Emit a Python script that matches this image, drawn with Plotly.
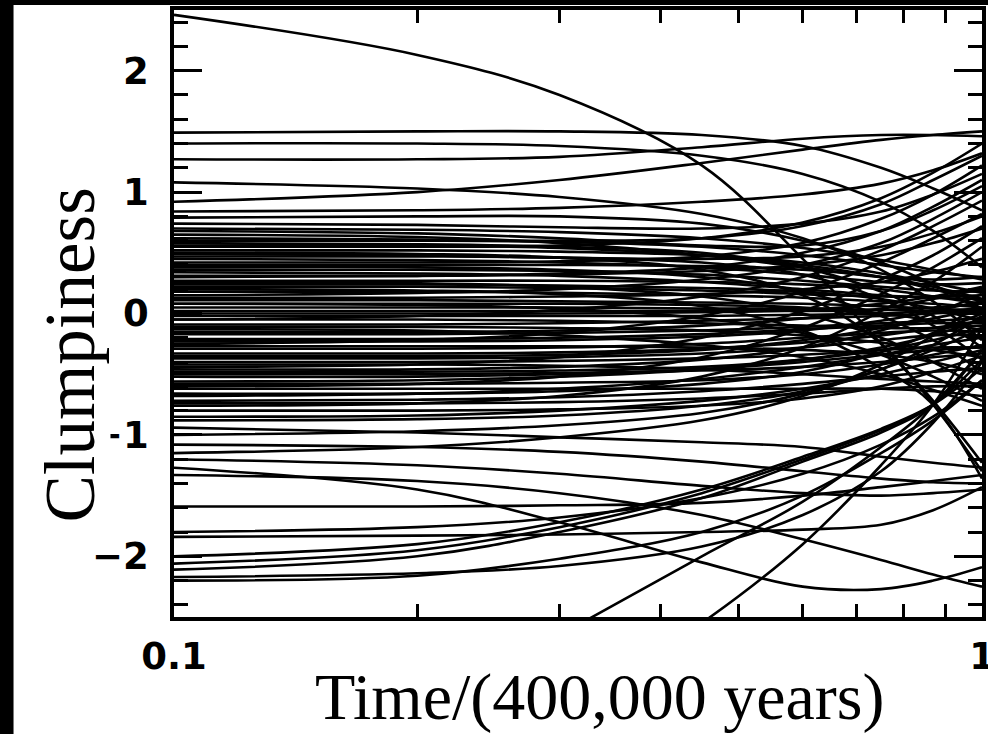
import plotly.graph_objects as go

time_grid = [0.1, 0.2, 0.3, 0.45, 0.6, 0.75, 0.87, 1.0]

top_curve = [2.46, 2.13, 1.80, 1.22, 0.45, -0.25, -0.72, -1.23]

upper_band = [
    [1.49, 1.50, 1.50, 1.47, 1.38, 1.20, 1.03, 0.85],
    [1.40, 1.40, 1.38, 1.30, 1.15, 0.92, 0.68, 0.38],
    [1.27, 1.27, 1.29, 1.37, 1.44, 1.47, 1.47, 1.46],
    [1.08, 1.03, 0.96, 0.82, 0.62, 0.36, 0.10, -0.22],
    [0.92, 1.00, 1.10, 1.24, 1.35, 1.43, 1.47, 1.50],
    [0.84, 0.85, 0.87, 0.92, 0.98, 1.07, 1.18, 1.32],
    [0.79, 0.80, 0.80, 0.74, 0.60, 0.42, 0.24, 0.02],
    [0.74, 0.73, 0.71, 0.70, 0.74, 0.84, 0.98, 1.15],
]

middle_rising = [
    [0.68, 0.66, 0.62, 0.56, 0.56, 0.68, 0.85, 1.05],
    [0.62, 0.61, 0.60, 0.62, 0.72, 0.90, 1.10, 1.30],
    [0.55, 0.55, 0.56, 0.62, 0.75, 0.95, 1.16, 1.40],
    [0.42, 0.42, 0.43, 0.47, 0.58, 0.78, 0.98, 1.22],
    [0.30, 0.31, 0.33, 0.38, 0.50, 0.68, 0.88, 1.10],
    [0.15, 0.17, 0.20, 0.28, 0.40, 0.58, 0.78, 1.00],
    [-0.05, -0.02, 0.03, 0.14, 0.30, 0.52, 0.72, 0.93],
    [-0.25, -0.22, -0.16, -0.02, 0.18, 0.42, 0.62, 0.82],
    [-0.44, -0.42, -0.36, -0.20, 0.02, 0.28, 0.48, 0.72],
    [-0.60, -0.58, -0.52, -0.36, -0.12, 0.16, 0.38, 0.62],
    [-0.76, -0.74, -0.68, -0.52, -0.28, 0.02, 0.26, 0.55],
]

middle_falling = [
    [0.58, 0.57, 0.55, 0.50, 0.38, 0.18, -0.02, -0.28],
    [0.47, 0.47, 0.46, 0.42, 0.32, 0.12, -0.10, -0.38],
    [0.38, 0.38, 0.36, 0.30, 0.18, -0.02, -0.22, -0.48],
    [0.26, 0.25, 0.22, 0.14, 0.00, -0.20, -0.40, -0.62],
    [0.08, 0.07, 0.04, -0.04, -0.16, -0.34, -0.52, -0.72],
    [-0.13, -0.14, -0.18, -0.26, -0.36, -0.50, -0.63, -0.76],
    [0.50, 0.49, 0.46, 0.36, 0.15, -0.25, -0.75, -1.30],
    [0.20, 0.19, 0.16, 0.06, -0.14, -0.45, -0.75, -1.36],
]

central_knot = [
    [0.36, 0.36, 0.35, 0.32, 0.27, 0.22, 0.19, 0.18],
    [0.22, 0.22, 0.21, 0.19, 0.16, 0.14, 0.14, 0.15],
    [0.18, 0.18, 0.17, 0.15, 0.13, 0.10, 0.08, 0.05],
    [0.11, 0.11, 0.10, 0.09, 0.08, 0.06, 0.04, 0.02],
    [0.05, 0.05, 0.05, 0.04, 0.04, 0.03, 0.02, 0.00],
    [0.02, 0.02, 0.02, 0.02, 0.02, 0.03, 0.05, 0.08],
    [-0.02, -0.02, -0.02, -0.02, -0.01, 0.00, 0.02, 0.04],
    [-0.09, -0.09, -0.08, -0.06, -0.04, -0.02, 0.00, 0.03],
    [-0.17, -0.17, -0.16, -0.14, -0.11, -0.08, -0.06, -0.04],
    [-0.21, -0.21, -0.20, -0.17, -0.13, -0.10, -0.08, -0.08],
    [-0.29, -0.29, -0.28, -0.25, -0.20, -0.16, -0.14, -0.15],
    [-0.33, -0.33, -0.32, -0.29, -0.24, -0.18, -0.12, -0.06],
    [-0.37, -0.37, -0.36, -0.33, -0.28, -0.22, -0.18, -0.18],
    [-0.48, -0.48, -0.47, -0.44, -0.38, -0.30, -0.22, -0.12],
    [-0.52, -0.52, -0.50, -0.46, -0.40, -0.34, -0.30, -0.28],
    [-0.56, -0.55, -0.52, -0.46, -0.38, -0.28, -0.18, -0.05],
    [-0.68, -0.66, -0.62, -0.54, -0.44, -0.34, -0.26, -0.20],
    [-0.72, -0.71, -0.69, -0.64, -0.58, -0.52, -0.48, -0.45],
    [-0.85, -0.84, -0.80, -0.72, -0.62, -0.50, -0.40, -0.30],
    [0.45, 0.44, 0.42, 0.38, 0.32, 0.26, 0.24, 0.25],
    [0.65, 0.63, 0.58, 0.48, 0.38, 0.30, 0.28, 0.30],
    [0.27, 0.27, 0.27, 0.26, 0.24, 0.20, 0.14, 0.08],
]

middle_extra = [
    [0.60, 0.60, 0.59, 0.55, 0.48, 0.40, 0.34, 0.30],
    [0.52, 0.52, 0.51, 0.48, 0.42, 0.33, 0.25, 0.17],
    [0.49, 0.48, 0.46, 0.45, 0.47, 0.55, 0.66, 0.80],
    [0.40, 0.40, 0.40, 0.39, 0.36, 0.30, 0.22, 0.12],
    [0.34, 0.33, 0.31, 0.26, 0.20, 0.15, 0.13, 0.12],
    [0.31, 0.31, 0.32, 0.35, 0.40, 0.48, 0.58, 0.70],
    [0.24, 0.24, 0.23, 0.21, 0.18, 0.12, 0.04, -0.06],
    [0.13, 0.13, 0.14, 0.16, 0.20, 0.26, 0.34, 0.45],
    [0.08, 0.08, 0.08, 0.07, 0.05, 0.00, -0.06, -0.14],
    [0.00, 0.00, 0.00, 0.01, 0.03, 0.08, 0.14, 0.22],
    [-0.05, -0.05, -0.06, -0.08, -0.10, -0.12, -0.12, -0.10],
    [-0.11, -0.11, -0.12, -0.14, -0.18, -0.24, -0.30, -0.36],
    [-0.15, -0.15, -0.14, -0.10, -0.04, 0.04, 0.12, 0.20],
    [-0.23, -0.23, -0.22, -0.19, -0.14, -0.06, 0.02, 0.10],
    [-0.27, -0.27, -0.27, -0.28, -0.30, -0.34, -0.40, -0.50],
    [-0.35, -0.35, -0.34, -0.30, -0.22, -0.12, -0.04, 0.04],
    [-0.40, -0.40, -0.39, -0.37, -0.34, -0.30, -0.28, -0.28],
    [-0.42, -0.42, -0.43, -0.46, -0.50, -0.54, -0.56, -0.58],
    [-0.46, -0.46, -0.44, -0.38, -0.28, -0.14, 0.00, 0.16],
    [-0.50, -0.50, -0.49, -0.47, -0.44, -0.40, -0.36, -0.33],
    [-0.58, -0.58, -0.57, -0.55, -0.50, -0.42, -0.34, -0.26],
    [-0.62, -0.62, -0.62, -0.62, -0.62, -0.62, -0.64, -0.68],
    [-0.66, -0.66, -0.64, -0.58, -0.48, -0.32, -0.16, 0.00],
    [-0.74, -0.74, -0.73, -0.70, -0.66, -0.62, -0.60, -0.60],
    [-0.80, -0.80, -0.79, -0.76, -0.70, -0.60, -0.48, -0.35],
    [-0.88, -0.87, -0.84, -0.76, -0.64, -0.46, -0.30, -0.12],
    [0.70, 0.69, 0.67, 0.62, 0.54, 0.44, 0.36, 0.28],
    [0.56, 0.56, 0.54, 0.48, 0.40, 0.30, 0.20, 0.10],
]

lower_band = [
    [-0.94, -0.98, -1.02, -1.06, -1.10, -1.18, -1.23, -1.27],
    [-1.00, -0.97, -0.92, -0.82, -0.66, -0.46, -0.26, -0.02],
    [-1.08, -1.10, -1.14, -1.22, -1.30, -1.36, -1.39, -1.40],
    [-1.15, -1.10, -1.02, -0.88, -0.68, -0.42, -0.18, 0.10],
    [-1.20, -1.25, -1.32, -1.42, -1.48, -1.50, -1.48, -1.45],
    [-1.27, -1.45, -1.72, -2.05, -2.25, -2.27, -2.20, -2.09],
    [-1.33, -1.38, -1.48, -1.66, -1.86, -2.03, -2.15, -2.25],
    [-1.59, -1.59, -1.58, -1.56, -1.50, -1.43, -1.38, -1.33],
    [-1.80, -1.76, -1.68, -1.52, -1.32, -1.08, -0.85, -0.55],
    [-1.84, -1.83, -1.82, -1.80, -1.78, -1.74, -1.62, -1.43],
    [-2.00, -1.90, -1.72, -1.45, -1.18, -0.95, -0.75, -0.45],
    [-2.06, -1.95, -1.76, -1.48, -1.20, -0.96, -0.75, -0.38],
    [-2.11, -2.00, -1.80, -1.52, -1.22, -0.98, -0.75, -0.30],
    [-2.17, -2.14, -2.08, -1.92, -1.66, -1.30, -0.90, -0.40],
    [-2.20, -2.16, -2.02, -1.80, -1.50, -1.15, -0.88, -0.55],
]

from_below = [
    [-4.2, -3.3, -2.65, -2.00, -1.55, -1.10, -0.75, -0.30],
    [-5.0, -4.0, -3.30, -2.55, -1.90, -1.25, -0.75, -0.12],
]

all_curves = ([top_curve] + upper_band + middle_rising + middle_falling
              + central_knot + middle_extra + lower_band + from_below)

fig = go.Figure()
for curve in all_curves:
    fig.add_trace(go.Scatter(
        x=time_grid, y=curve, mode="lines",
        line=dict(color="black", width=2.6, shape="spline", smoothing=1.0),
        showlegend=False, hoverinfo="skip"))

x_tick_vals = [0.1, 0.2, 0.3, 0.4, 0.5, 0.6, 0.7, 0.8, 0.9, 1.0]
x_tick_text = ["0.1", "", "", "", "", "", "", "", "", "1"]

tick_font = dict(family="DejaVu Sans", size=37, color="black", weight="bold")
title_font = dict(family="Liberation Serif", size=66, color="black")

fig.update_layout(
    width=988, height=734,
    margin=dict(l=174, r=6, t=10, b=117, autoexpand=False),
    paper_bgcolor="white", plot_bgcolor="white",
    xaxis=dict(
        type="log", range=[-1, 0], automargin=False,
        tickmode="array", tickvals=x_tick_vals, ticktext=x_tick_text,
        ticks="inside", ticklen=13, tickwidth=2.5, tickcolor="black",
        mirror="allticks", showline=True, linewidth=3.5, linecolor="black",
        showgrid=False, zeroline=False, tickfont=tick_font,
        ticklabelstandoff=4, ticklabeloverflow="allow",
    ),
    yaxis=dict(
        range=[-2.5, 2.5], tickmode="linear", tick0=0, dtick=1, automargin=False,
        ticks="inside", ticklen=28, tickwidth=2.5, tickcolor="black",
        minor=dict(tickmode="linear", tick0=0, dtick=0.2, ticks="inside",
                   ticklen=14, tickwidth=2.5, tickcolor="black", showgrid=False),
        mirror="allticks", showline=True, linewidth=3.5, linecolor="black",
        showgrid=False, zeroline=False, tickfont=tick_font,
        ticklabelstandoff=14,
    ),
    annotations=[
        dict(text="Time/(400,000 years)", xref="paper", yref="paper",
             x=0.527, y=-0.132, xanchor="center", yanchor="middle",
             showarrow=False, font=title_font),
        dict(text="Clumpiness", xref="paper", yref="paper",
             x=-0.129, y=0.432, xanchor="center", yanchor="middle",
             textangle=-90, showarrow=False, bgcolor="white",
             font=dict(family="Liberation Serif", size=71, color="black")),
    ],
    shapes=[
        dict(type="rect", xref="paper", yref="paper", x0=-0.3, x1=-0.1986,
             y0=-0.3, y1=1.1, fillcolor="black", line=dict(width=0)),
        dict(type="rect", xref="paper", yref="paper", x0=-0.3, x1=1.1,
             y0=1.0082, y1=1.1, fillcolor="black", line=dict(width=0)),
    ],
)

fig.write_html("out.html")
